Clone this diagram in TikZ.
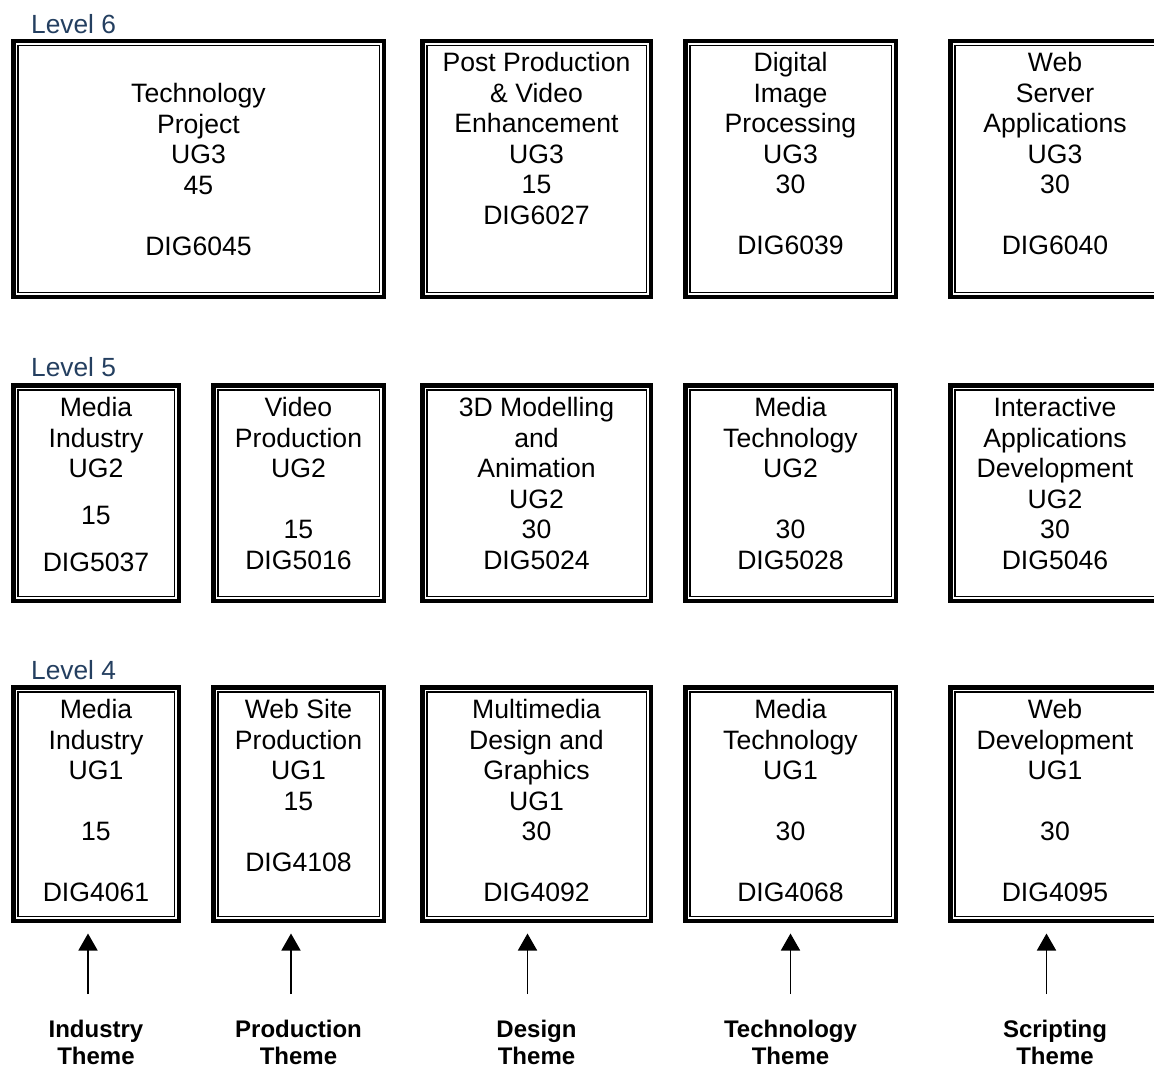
\documentclass[tikz,border=0pt]{standalone}
\usepackage{fontspec}
\setmainfont{Liberation Sans}
\usetikzlibrary{arrows.meta}
\definecolor{lvlblue}{RGB}{36,63,96}
\tikzset{
  course/.style={draw, line width=4.5pt, rectangle, inner sep=0pt,
    path picture={\draw[line width=1.5pt]
      ([xshift=4.5pt,yshift=-4.5pt]path picture bounding box.north west) rectangle
      ([xshift=-4.5pt,yshift=4.5pt]path picture bounding box.south east);}},
  ctext/.style={anchor=north, inner sep=0pt, align=center,
    font=\fontsize{26.6}{30.5}\selectfont},
  lvl/.style={anchor=base west, inner sep=0pt, text=lvlblue,
    font=\fontsize{26.3}{30.5}\selectfont},
  theme/.style={anchor=north, inner sep=0pt, align=center,
    font=\bfseries\fontsize{24}{27}\selectfont},
  arr/.style={line width=1.7pt, -{Triangle[width=19pt,length=17pt]}}
}
% box macro: name, x1, y1, x2, y2
\newcommand{\cbox}[5]{%
  \node[course, minimum width={(#4)-(#2)-4.5pt}, minimum height={(#5)-(#3)-4.5pt}]
    (#1) at ({((#2)+(#4))/2},{((#3)+(#5))/2}) {};}
\begin{document}
\begin{tikzpicture}[x=1pt,y=-1pt]
\clip (0,0) rectangle (1154,1068);
\fill[white] (0,0) rectangle (1154,1068);

% level labels
\node[lvl] (lv6) at (31,33.5) {Level 6};
\node[lvl] (lv5) at (31,376) {Level 5};
\node[lvl] (lv4) at (31,679) {Level 4};

% Level 6 boxes
\cbox{b61}{11}{38.5}{386}{299}
\cbox{b62}{420}{38.5}{653}{299}
\cbox{b63}{683}{38.5}{898}{299}
\cbox{b64}{948}{38.5}{1162}{299}
% Level 5 boxes
\cbox{b51}{11}{383}{181}{603}
\cbox{b52}{211}{383}{386}{603}
\cbox{b53}{420}{383}{653}{603}
\cbox{b54}{683}{383}{898}{603}
\cbox{b55}{948}{383}{1162}{603}
% Level 4 boxes
\cbox{b41}{11}{685}{181}{923}
\cbox{b42}{211}{685}{386}{923}
\cbox{b43}{420}{685}{653}{923}
\cbox{b44}{683}{685}{898}{923}
\cbox{b45}{948}{685}{1162}{923}

% Level 6 texts
\node[ctext] (t61) at (198.5,81) {\strut Technology\\Project\\UG3\\45\\~\\DIG6045};
\node[ctext] (t62) at (536.5,50) {\strut Post Production\\\& Video\\Enhancement\\UG3\\15\\DIG6027};
\node[ctext] (t63) at (790.5,50) {\strut Digital\\Image\\Processing\\UG3\\30\\~\\DIG6039};
\node[ctext] (t64) at (1055,50) {\strut Web\\Server\\Applications\\UG3\\30\\~\\DIG6040};

% Level 5 texts
\node[ctext] (t51) at (96,395) {\strut Media\\Industry\\UG2\\[16.5pt]15\\[16.5pt]DIG5037};
\node[ctext] (t52) at (298.5,395) {\strut Video\\Production\\UG2\\~\\15\\DIG5016};
\node[ctext] (t53) at (536.5,395) {\strut 3D Modelling\\and\\Animation\\UG2\\30\\DIG5024};
\node[ctext] (t54) at (790.5,395) {\strut Media\\Technology\\UG2\\~\\30\\DIG5028};
\node[ctext] (t55) at (1055,395) {\strut Interactive\\Applications\\Development\\UG2\\30\\DIG5046};

% Level 4 texts
\node[ctext] (t41) at (96,697) {\strut Media\\Industry\\UG1\\~\\15\\~\\DIG4061};
\node[ctext] (t42) at (298.5,697) {\strut Web Site\\Production\\UG1\\15\\~\\DIG4108};
\node[ctext] (t43) at (536.5,697) {\strut Multimedia\\Design and\\Graphics\\UG1\\30\\~\\DIG4092};
\node[ctext] (t44) at (790.5,697) {\strut Media\\Technology\\UG1\\~\\30\\~\\DIG4068};
\node[ctext] (t45) at (1055,697) {\strut Web\\Development\\UG1\\~\\30\\~\\DIG4095};

% themes
\node[theme] (th1) at (96,1018.5) {\strut Industry\\Theme};
\node[theme] (th2) at (298.5,1018.5) {\strut Production\\Theme};
\node[theme] (th3) at (536.5,1018.5) {\strut Design\\Theme};
\node[theme] (th4) at (790.5,1018.5) {\strut Technology\\Theme};
\node[theme] (th5) at (1055,1018.5) {\strut Scripting\\Theme};

% arrow start points
\coordinate (s1) at (88,994);
\coordinate (s2) at (291,994);
\coordinate (s3) at (527.5,994);
\coordinate (s4) at (790.5,994);
\coordinate (s5) at (1046.5,994);

\draw[arr] (s1) -- ([yshift=-10.5pt]s1 |- b41.south);
\draw[arr] (s2) -- ([yshift=-10.5pt]s2 |- b42.south);
\draw[arr] (s3) -- ([yshift=-10.5pt]s3 |- b43.south);
\draw[arr] (s4) -- ([yshift=-10.5pt]s4 |- b44.south);
\draw[arr] (s5) -- ([yshift=-10.5pt]s5 |- b45.south);
\end{tikzpicture}
\end{document}
